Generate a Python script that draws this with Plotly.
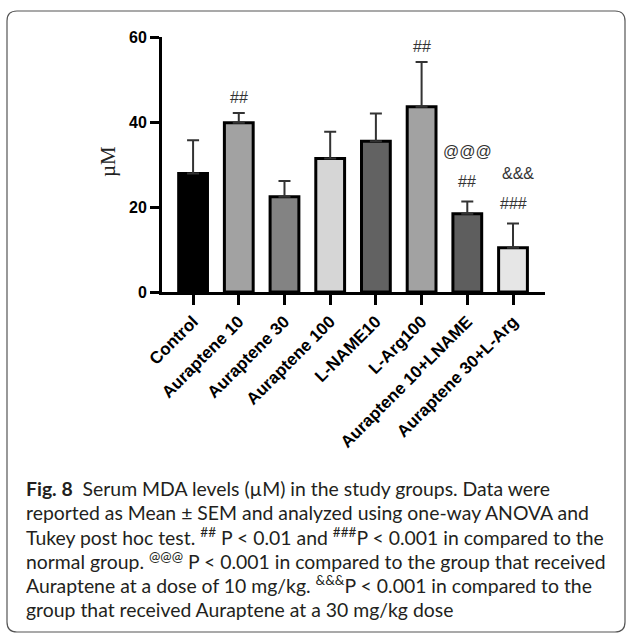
import plotly.graph_objects as go

# Serum MDA levels per study group (mean and SEM, µM)
groups = ["Control", "Auraptene 10", "Auraptene 30", "Auraptene 100",
          "L-NAME10", "L-Arg100", "Auraptene 10+LNAME", "Auraptene 30+L-Arg"]
mda_mean = [27.9, 39.8, 22.4, 31.4, 35.5, 43.6, 18.4, 10.4]
mda_sem = [7.8, 2.3, 3.7, 6.3, 6.5, 10.5, 2.9, 5.7]
bar_colors = ["#000000", "#a2a2a2", "#838383", "#d6d6d6",
              "#626262", "#a2a2a2", "#5e5e5e", "#e6e6e6"]
y_ticks = [0, 20, 40, 60]

# Significance marks: (group index, label, stacking level)
sig_marks = [(1, "##", 0), (5, "##", 0), (6, "##", 0), (6, "@@@", 1),
             (7, "###", 0), (7, "&amp;&amp;&amp;", 1)]

caption_lines = [
    "<b>Fig. 8</b>  Serum MDA levels (µM) in the study groups. Data were",
    "reported as Mean ± SEM and analyzed using one-way ANOVA and",
    "Tukey post hoc test. <sup>##</sup> P < 0.01 and <sup>###</sup>P < 0.001 in compared to the",
    "normal group. <sup>@@@</sup> P < 0.001 in compared to the group that received",
    "Auraptene at a dose of 10 mg/kg. <sup>&amp;&amp;&amp;</sup>P < 0.001 in compared to the",
    "group that received Auraptene at a 30 mg/kg dose",
]

W, H = 627, 634
L, R, T, B = 162, 545, 37, 292


def px(x):
    return (x - L) / (R - L)


def py(y):
    return (B - y) / (B - T)


fig = go.Figure()
fig.add_trace(go.Bar(
    x=list(range(len(groups))), y=mda_mean, width=0.63,
    marker=dict(color=bar_colors, line=dict(color="#000000", width=3)),
    error_y=dict(type="data", symmetric=False, array=mda_sem,
                 arrayminus=[0] * len(mda_sem), color="#333333",
                 thickness=2, width=6),
    showlegend=False,
))

annotations = []
level_shift = {0: 16, 1: 50}
for idx, label, level in sig_marks:
    annotations.append(dict(
        x=idx + (0.12 if label.startswith("&amp;") else 0), y=mda_mean[idx] + mda_sem[idx],
        xref="x", yref="y", text=label, showarrow=False,
        yanchor="middle", yshift=level_shift[level] + (4 if level == 0 and idx >= 6 else 0),
        font=dict(family="Liberation Sans, Arial", size=16, color="#333333"),
    ))

# y-axis title
annotations.append(dict(
    x=px(108), y=py(162), xref="paper", yref="paper", text="µM",
    textangle=-90, showarrow=False, xanchor="center", yanchor="middle",
    font=dict(family="Liberation Serif, Times New Roman", size=21, color="#222222"),
))

# figure caption
for i, line in enumerate(caption_lines):
    annotations.append(dict(
        x=px(24), y=py(488 + i * 24.2), xref="paper", yref="paper",
        text=line, showarrow=False, xanchor="left", yanchor="middle",
        align="left",
        font=dict(family="Lato, Open Sans, sans-serif", size=19.4, color="#231f20"),
    ))


def rounded_rect(x0, y0, x1, y1, r):
    # path in paper coordinates from pixel corners
    return (f"M {px(x0 + r)} {py(y0)} L {px(x1 - r)} {py(y0)} "
            f"Q {px(x1)} {py(y0)} {px(x1)} {py(y0 + r)} "
            f"L {px(x1)} {py(y1 - r)} Q {px(x1)} {py(y1)} {px(x1 - r)} {py(y1)} "
            f"L {px(x0 + r)} {py(y1)} Q {px(x0)} {py(y1)} {px(x0)} {py(y1 - r)} "
            f"L {px(x0)} {py(y0 + r)} Q {px(x0)} {py(y0)} {px(x0 + r)} {py(y0)} Z")


fig.update_layout(
    width=W, height=H,
    margin=dict(l=L, r=W - R, t=T, b=H - B, autoexpand=False),
    paper_bgcolor="white", plot_bgcolor="white",
    annotations=annotations,
    shapes=[dict(type="path", xref="paper", yref="paper",
                 path=rounded_rect(7, 11, 625, 632, 10),
                 line=dict(color="#555555", width=1.2), layer="below")],
    xaxis=dict(
        range=[-0.68, 7.7], tickmode="array",
        tickvals=list(range(len(groups))), ticktext=groups,
        tickangle=-45, ticks="outside", ticklen=10, tickwidth=3,
        tickcolor="#000000", showline=True, linewidth=3, linecolor="#000000",
        showgrid=False, zeroline=False,
        tickfont=dict(family="Liberation Sans, Arial", size=17,
                      color="#000000", weight="bold"),
    ),
    yaxis=dict(
        range=[0, 60], tickmode="array", tickvals=y_ticks,
        ticktext=[str(v) for v in y_ticks],
        ticks="outside", ticklen=9, tickwidth=3, tickcolor="#000000",
        showline=True, linewidth=3, linecolor="#000000",
        showgrid=False, zeroline=False,
        tickfont=dict(family="Liberation Sans, Arial", size=16,
                      color="#000000", weight="bold"),
    ),
)

fig.write_html("out.html")
